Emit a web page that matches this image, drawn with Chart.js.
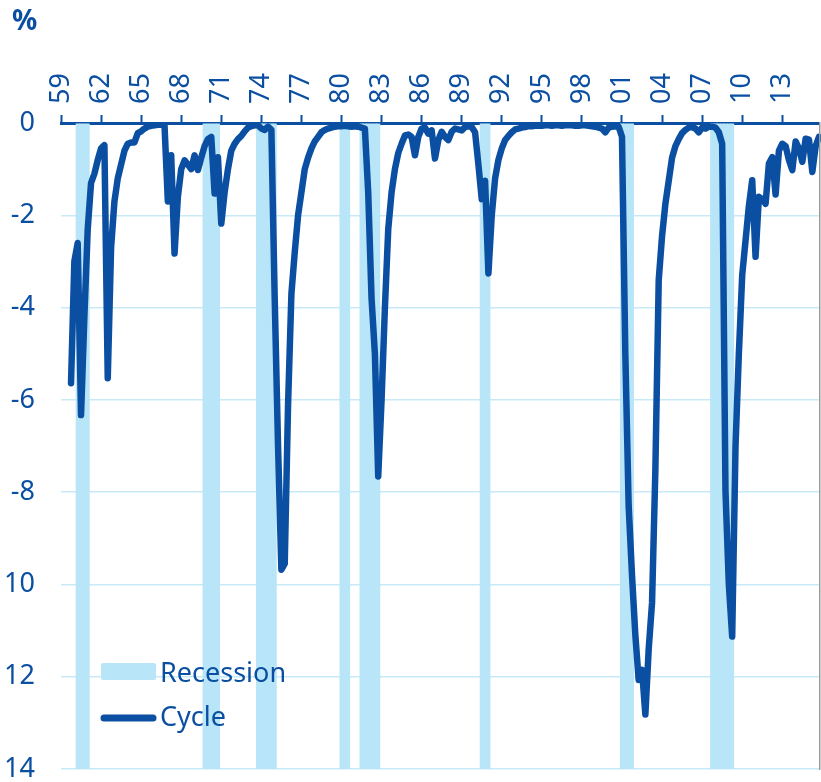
<!DOCTYPE html>
<html>
<head>
<meta charset="utf-8">
<script src="https://cdn.jsdelivr.net/npm/chart.js@4.4.1/dist/chart.umd.min.js"></script>
<style>
  body { margin: 0; background: #fff; }
  #wrap { position: relative; width: 821px; height: 782px; }
  #unit { position: absolute; left: 12px; top: 5px; font: bold 28px/28px 'Noto Sans', sans-serif; color: #0b4fa2; }
</style>
</head>
<body>
<div id="wrap">
  <canvas id="chart" width="821" height="782"></canvas>
  <div id="unit">%</div>
</div>
<script>
// Quarterly categories, 1959Q1 .. 2015Q4
const firstYear = 1959;
const lastYear = 2015;
const quarterLabels = [];
for (let y = firstYear; y <= lastYear; y++) {
    for (let q = 1; q <= 4; q++) quarterLabels.push(y + 'Q' + q);
}

// Cycle series (%), one value per quarter
const cycleValues = [
    null, null, null, -5.64, -3.0, -2.6, -6.33, -4.2, -2.3, -1.3,          // 1959Q1-1961Q2
    -1.1, -0.8, -0.55, -0.48, -5.53, -2.7, -1.7, -1.2, -0.9, -0.6,         // 1961Q3-1963Q4
    -0.45, -0.42, -0.42, -0.22, -0.18, -0.12, -0.08, -0.06, -0.05, -0.04,  // 1964Q1-1966Q2
    -0.04, -0.05, -1.7, -0.7, -2.83, -1.6, -1.0, -0.81, -0.9, -1.0,        // 1966Q3-1968Q4
    -0.7, -1.02, -0.75, -0.5, -0.35, -0.3, -1.53, -0.74, -2.18, -1.5,      // 1969Q1-1971Q2
    -1.0, -0.6, -0.45, -0.35, -0.28, -0.18, -0.1, -0.07, -0.05, -0.05,     // 1971Q3-1973Q4
    -0.12, -0.15, -0.08, -0.15, -3.8, -7.0, -9.68, -9.55, -6.1, -3.7,      // 1974Q1-1976Q2
    -2.8, -2.0, -1.5, -1.0, -0.75, -0.55, -0.4, -0.3, -0.2, -0.15,         // 1976Q3-1978Q4
    -0.12, -0.1, -0.08, -0.07, -0.07, -0.06, -0.07, -0.08, -0.07, -0.08,   // 1979Q1-1981Q2
    -0.1, -0.12, -1.5, -3.8, -5.0, -7.66, -6.0, -4.0, -2.3, -1.5,          // 1981Q3-1983Q4
    -1.0, -0.65, -0.45, -0.27, -0.25, -0.3, -0.7, -0.3, -0.12, -0.1,       // 1984Q1-1986Q2
    -0.23, -0.16, -0.77, -0.37, -0.19, -0.3, -0.37, -0.19, -0.12, -0.14,   // 1986Q3-1988Q4
    -0.16, -0.09, -0.07, -0.09, -0.2, -0.9, -1.65, -1.25, -3.26, -2.0,     // 1989Q1-1991Q2
    -1.2, -0.8, -0.55, -0.37, -0.28, -0.2, -0.14, -0.12, -0.1, -0.09,      // 1991Q3-1993Q4
    -0.07, -0.07, -0.06, -0.06, -0.06, -0.05, -0.05, -0.06, -0.05, -0.05,  // 1994Q1-1996Q2
    -0.06, -0.05, -0.05, -0.05, -0.06, -0.06, -0.05, -0.05, -0.06, -0.07,  // 1996Q3-1998Q4
    -0.08, -0.1, -0.12, -0.2, -0.1, -0.08, -0.07, -0.08, -0.3, -5.0,       // 1999Q1-2001Q2
    -8.3, -9.8, -11.1, -12.07, -11.85, -12.82, -11.4, -10.4, -7.5, -3.4,   // 2001Q3-2003Q4
    -2.45, -1.75, -1.25, -0.75, -0.5, -0.35, -0.22, -0.15, -0.1, -0.09,    // 2004Q1-2006Q2
    -0.12, -0.2, -0.1, -0.12, -0.08, -0.08, -0.1, -0.2, -0.45, -8.0,       // 2006Q3-2008Q4
    -10.0, -11.13, -7.0, -5.0, -3.3, -2.55, -1.8, -1.24, -2.9, -1.6,       // 2009Q1-2011Q2
    -1.65, -1.75, -0.88, -0.74, -1.55, -0.6, -0.45, -0.5, -0.8, -1.02,     // 2011Q3-2013Q4
    -0.4, -0.55, -0.84, -0.34, -0.36, -1.06, -0.5, -0.3                    // 2014Q1-2015Q4
];

// Recession periods (first and last quarter)
const recessionPeriods = [
    ['1960Q2', '1961Q1'],
    ['1969Q4', '1970Q4'],
    ['1973Q4', '1975Q1'],
    ['1980Q1', '1980Q3'],
    ['1981Q3', '1982Q4'],
    ['1990Q3', '1991Q1'],
    ['2001Q1', '2001Q4'],
    ['2007Q4', '2009Q2']
];

// y axis ticks, labels as printed on the chart
const yTickValues = [0, -2, -4, -6, -8, -10, -12, -14];
const yTickLabels = ['0', '-2', '-4', '-6', '-8', '10', '12', '14'];

const lineColor = '#0b4fa2';
const recessionColor = '#b8e5f8';
const gridColor = '#c8e9f6';
const fontFamily = "'Noto Sans', sans-serif";

// recession shading: full-depth bar for each recession quarter
const recessionValues = quarterLabels.map(() => null);
recessionPeriods.forEach(([from, to]) => {
    const a = quarterLabels.indexOf(from);
    const b = quarterLabels.indexOf(to);
    for (let i = a; i <= b; i++) recessionValues[i] = yTickValues[yTickValues.length - 1];
});

// Legend drawn inside the plot, bottom left, plus the thin grey frame edge on the right
const insideLegend = {
    id: 'insideLegend',
    afterDraw(chart) {
        const ctx = chart.ctx;
        const area = chart.chartArea;
        const x0 = area.left + 40;
        ctx.save();
        ctx.fillStyle = '#9a9a9a';
        ctx.fillRect(area.right, area.top - 1, 1.5, area.bottom - area.top + 2);

        ctx.fillStyle = recessionColor;
        ctx.beginPath();
        ctx.roundRect(x0, 663, 55, 17, 2);
        ctx.fill();

        ctx.strokeStyle = lineColor;
        ctx.lineWidth = 7;
        ctx.lineCap = 'round';
        ctx.beginPath();
        ctx.moveTo(x0 + 3, 718);
        ctx.lineTo(x0 + 52, 718);
        ctx.stroke();

        ctx.fillStyle = lineColor;
        ctx.font = '27px ' + fontFamily;
        ctx.textBaseline = 'alphabetic';
        ctx.fillText('Recession', x0 + 59, 682);
        ctx.fillText('Cycle', x0 + 59, 726);
        ctx.restore();
    }
};

new Chart(document.getElementById('chart'), {
    type: 'bar',
    data: {
        labels: quarterLabels,
        datasets: [
            {
                type: 'line',
                label: 'Cycle',
                data: cycleValues,
                borderColor: lineColor,
                borderWidth: 6.5,
                pointRadius: 0,
                tension: 0,
                borderJoinStyle: 'round',
                borderCapStyle: 'round',
                order: 0
            },
            {
                type: 'bar',
                label: 'Recession',
                data: recessionValues,
                backgroundColor: recessionColor,
                borderWidth: 0,
                barPercentage: 1,
                categoryPercentage: 1,
                order: 1
            }
        ]
    },
    options: {
        responsive: false,
        animation: false,
        devicePixelRatio: 1,
        layout: { padding: { top: 63, left: 0, right: 2, bottom: 13 } },
        plugins: {
            legend: { display: false },
            tooltip: { enabled: false }
        },
        scales: {
            x: {
                position: 'top',
                offset: false,
                z: 1,
                grid: {
                    offset: false,
                    drawOnChartArea: false,
                    drawTicks: true,
                    tickLength: 8,
                    tickColor: lineColor,
                    tickWidth: 2
                },
                border: { display: true, color: lineColor, width: 3 },
                ticks: {
                    autoSkip: false,
                    minRotation: 90,
                    maxRotation: 90,
                    padding: 11,
                    labelOffset: 27,
                    color: lineColor,
                    font: { family: fontFamily, size: 27, lineHeight: 1 },
                    callback: (value) => quarterLabels[value].slice(2, 4)
                },
                afterBuildTicks: (scale) => {
                    scale.ticks = scale.ticks.filter(t => t.value % 12 === 0);
                },
                afterFit: (scale) => { scale.height = 60; }
            },
            y: {
                min: -14,
                max: 0,
                ticks: {
                    stepSize: 2,
                    padding: 0,
                    color: lineColor,
                    font: { family: fontFamily, size: 27, lineHeight: 0.96 },
                    callback: (value) => {
                        const i = yTickValues.indexOf(value);
                        return i >= 0 ? yTickLabels[i] : '';
                    }
                },
                grid: {
                    color: gridColor,
                    lineWidth: 1.5,
                    drawTicks: true,
                    tickLength: 26,
                    tickColor: 'rgba(0,0,0,0)'
                },
                border: { display: false },
                afterFit: (scale) => { scale.width = 61; }
            }
        }
    },
    plugins: [insideLegend]
});
</script>
</body>
</html>
